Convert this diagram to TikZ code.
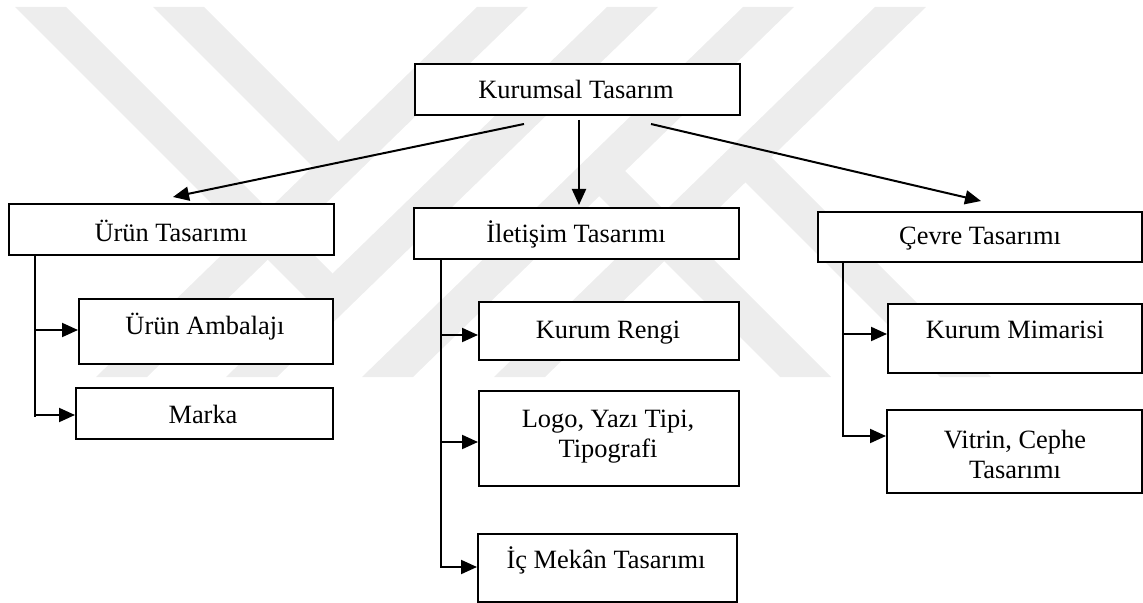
\documentclass[tikz,border=0pt]{standalone}
\usepackage{fontspec}
\setmainfont{Liberation Serif}
\usetikzlibrary{arrows.meta}
\definecolor{wm}{RGB}{237,237,237}
\tikzset{
  box/.style={draw=black, line width=1pt, fill=white, rectangle, inner sep=0pt, anchor=north west},
  txt/.style={font=\fontsize{13.2}{15}\selectfont, anchor=base, inner sep=0pt},
  conn/.style={line width=1pt, -{Triangle[length=8pt,width=7pt]}},
  trunk/.style={line width=1pt},
  wmark/.style={fill=wm, draw=none},
}
\begin{document}
\begin{tikzpicture}[x=0.5pt, y=-0.5pt]
\useasboundingbox (0,0) rectangle (1143,603);
% watermark
\fill[wmark] (477,7) -- (528,7) -- (147,377) -- (96,377) -- cycle;
\fill[wmark] (607,7) -- (658,7) -- (277,377) -- (226,377) -- cycle;
\fill[wmark] (743,7) -- (794,7) -- (413,377) -- (362,377) -- cycle;
\fill[wmark] (875,7) -- (926,7) -- (545,377) -- (494,377) -- cycle;
\fill[wmark] (15,7) -- (66,7) -- (332.5,273.5) -- (331.7,323.7) -- cycle;
\fill[wmark] (153,7) -- (204,7) -- (338.5,141.5) -- (337.7,191.7) -- cycle;
\fill[wmark] (780,377) -- (831,377) -- (625,171) -- (574,171) -- cycle;
\fill[wmark] (940,377) -- (991,377) -- (771,157) -- (720,157) -- cycle;
% boxes
\node[box, minimum width=162.5pt, minimum height=25.5pt] (K) at (414,63) {};
\node[box, minimum width=162.5pt, minimum height=25.5pt] (U) at (8,203) {};
\node[box, minimum width=127pt, minimum height=32.5pt] (UA) at (78,298) {};
\node[box, minimum width=128.5pt, minimum height=25.5pt] (M) at (75,387) {};
\node[box, minimum width=162.5pt, minimum height=25.5pt] (I) at (413,207) {};
\node[box, minimum width=130pt, minimum height=29pt] (KR) at (478,301) {};
\node[box, minimum width=130pt, minimum height=47.5pt] (L) at (478,390) {};
\node[box, minimum width=129.5pt, minimum height=34pt] (IC) at (477,533) {};
\node[box, minimum width=162pt, minimum height=25pt] (C) at (817,211) {};
\node[box, minimum width=127pt, minimum height=34.5pt] (KM) at (887,303) {};
\node[box, minimum width=127.5pt, minimum height=41.5pt] (V) at (886,409) {};
% texts
\node[txt] (tK) at (576,99) {Kurumsal Tasarım};
\node[txt] (tU) at (171,242) {Ürün Tasarımı};
\node[txt] (tUA) at (205,335) {Ürün Ambalajı};
\node[txt] (tM) at (203,423) {Marka};
\node[txt] (tI) at (576,243) {İletişim Tasarımı};
\node[txt] (tKR) at (608,339) {Kurum Rengi};
\node[txt] (tL1) at (608,427) {Logo, Yazı Tipi,};
\node[txt] (tL2) at (608,457) {Tipografi};
\node[txt] (tIC) at (606,568) {İç Mekân Tasarımı};
\node[txt] (tC) at (980,245) {Çevre Tasarımı};
\node[txt] (tKM) at (1015,339) {Kurum Mimarisi};
\node[txt] (tV1) at (1015,448) {Vitrin, Cephe};
\node[txt] (tV2) at (1015,478) {Tasarımı};
% top connectors
\draw[conn] ([xshift=-26.75pt,yshift=-4pt]K.south) -- ([xshift=0.75pt,yshift=3pt]U.north);
\draw[conn] ([xshift=0.75pt,yshift=-2pt]K.south) -- ([xshift=1.25pt,yshift=1pt]I.north);
\draw[conn] ([xshift=36.75pt,yshift=-4pt]K.south) -- ([xshift=0.5pt,yshift=5pt]C.north);
% Urun branch
\coordinate (u0) at ([xshift=13.5pt]U.south west);
\coordinate (u1) at (35,330);
\coordinate (u2) at (35,415);
\coordinate (u3) at (35,417);
\draw[trunk] (u0) -- (u3);
\draw[conn] (u1) -- (u1 -| UA.west);
\draw[conn] (u2) -- (u2 -| M.west);
% Iletisim branch
\coordinate (i0) at ([xshift=14pt]I.south west);
\coordinate (i1) at (441,335);
\coordinate (i2) at (441,442);
\coordinate (i3) at (441,567);
\draw[trunk] (i0) -- ([yshift=-0.5pt]i3);
\draw[conn] (i1) -- (i1 -| KR.west);
\draw[conn] (i2) -- (i2 -| L.west);
\draw[conn] (i3) -- (i3 -| IC.west);
% Cevre branch
\coordinate (c0) at ([xshift=13pt]C.south west);
\coordinate (c1) at (843,334);
\coordinate (c2) at (843,436);
\draw[trunk] (c0) -- ([yshift=-0.5pt]c2);
\draw[conn] (c1) -- (c1 -| KM.west);
\draw[conn] (c2) -- (c2 -| V.west);
\end{tikzpicture}
\end{document}
